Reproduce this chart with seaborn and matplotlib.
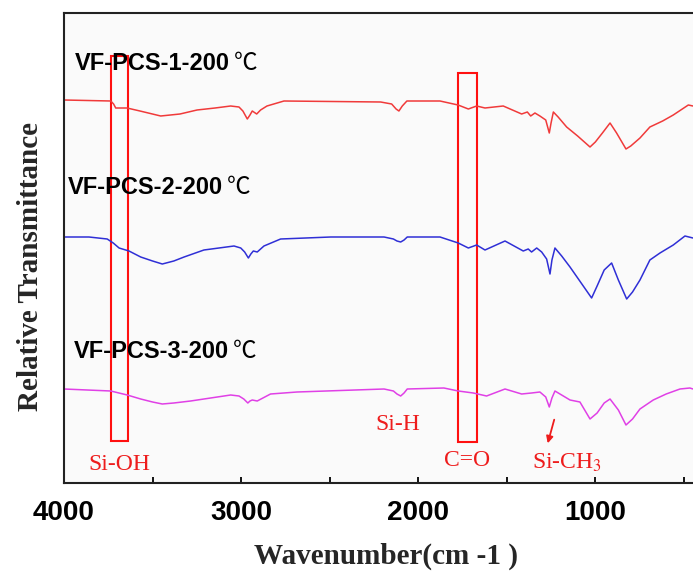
import pandas as pd
import seaborn as sns
import matplotlib.pyplot as plt
from matplotlib.patches import Rectangle

# FTIR spectra, wavenumber (cm-1) vs relative transmittance (offset, arbitrary units)
wn_1 = [4000, 3736, 3720, 3708, 3644, 3571, 3454, 3345, 3249, 3147, 3059, 3012, 2990,
        2965, 2950, 2937, 2912, 2890, 2854, 2758, 2212, 2150, 2125, 2109, 2090, 2064,
        1877, 1775, 1717, 1670, 1623, 1520, 1416, 1384, 1365, 1341, 1313, 1280, 1260,
        1250, 1237, 1210, 1162, 1100, 1030, 1000, 960, 917, 880, 827, 800, 748, 692,
        620, 560, 475, 449]
tr_1 = [38.3, 38.2, 37.9, 37.5, 37.5, 37.2, 36.7, 36.9, 37.3, 37.5, 37.7, 37.6, 37.2,
        36.4, 36.8, 37.2, 36.9, 37.3, 37.7, 38.2, 38.1, 37.9, 37.4, 37.2, 37.7, 38.2,
        38.2, 37.8, 37.4, 37.7, 37.5, 37.7, 36.9, 37.1, 36.7, 37.0, 36.7, 36.3, 35.0,
        36.0, 37.1, 36.6, 35.6, 34.7, 33.6, 34.1, 35.0, 36.0, 35.0, 33.4, 33.7, 34.5, 35.6,
        36.2, 36.8, 37.8, 37.7]

wn_2 = [4000, 3859, 3756, 3722, 3689, 3633, 3567, 3500, 3445, 3380, 3322, 3210, 3040,
        3002, 2980, 2959, 2945, 2931, 2909, 2890, 2871, 2777, 2494, 2193, 2140, 2120,
        2099, 2080, 2062, 1877, 1774, 1717, 1670, 1623, 1510, 1407, 1379, 1360, 1331,
        1303, 1275, 1256, 1245, 1228, 1190, 1143, 1080, 1021, 990, 950, 908, 870, 823,
        790, 748, 692, 635, 560, 494, 449]
tr_2 = [24.6, 24.6, 24.4, 24.0, 23.5, 23.2, 22.6, 22.2, 21.9, 22.2, 22.6, 23.3, 23.7,
        23.5, 23.1, 22.5, 22.9, 23.2, 23.1, 23.4, 23.7, 24.4, 24.6, 24.6, 24.4, 24.2,
        24.1, 24.3, 24.6, 24.6, 24.0, 23.5, 23.8, 23.3, 24.2, 23.2, 23.4, 23.1, 23.5,
        23.1, 22.4, 20.9, 22.3, 23.5, 22.7, 21.6, 20.0, 18.5, 19.7, 21.3, 22.0, 20.3, 18.4,
        19.1, 20.3, 22.3, 23.0, 23.8, 24.7, 24.5]

wn_3 = [4000, 3736, 3643, 3567, 3500, 3445, 3380, 3285, 3059, 3012, 2985, 2962, 2950,
        2937, 2909, 2834, 2684, 2193, 2140, 2120, 2099, 2080, 2062, 1855, 1774, 1689,
        1614, 1510, 1416, 1360, 1313, 1280, 1260, 1245, 1228, 1143, 1087, 1030, 990, 950,
        917, 870, 827, 790, 748, 673, 600, 522, 466, 449]
tr_3 = [9.4, 9.2, 8.8, 8.4, 8.1, 7.9, 8.0, 8.2, 8.8, 8.7, 8.4, 8.0, 8.2,
        8.3, 8.2, 8.9, 9.1, 9.4, 9.2, 8.9, 8.7, 9.0, 9.4, 9.5, 9.2, 9.0,
        8.7, 9.4, 8.9, 9.0, 9.1, 8.6, 7.6, 8.5, 9.2, 8.3, 8.1, 6.4, 7.0, 8.0,
        8.4, 7.3, 5.8, 6.4, 7.4, 8.3, 8.9, 9.4, 9.5, 9.4]

samples = ['VF-PCS-1-200', 'VF-PCS-2-200', 'VF-PCS-3-200']
colors = {samples[0]: '#f03a3a', samples[1]: '#2f2fd6', samples[2]: '#e040e6'}
label_pos = [(3938, 42.0), (3977, 29.5), (3944, 13.1)]

df = pd.concat([
    pd.DataFrame({'wn': wn_1, 'tr': tr_1, 'sample': samples[0]}),
    pd.DataFrame({'wn': wn_2, 'tr': tr_2, 'sample': samples[1]}),
    pd.DataFrame({'wn': wn_3, 'tr': tr_3, 'sample': samples[2]}),
])

sns.set_theme(style='ticks')
plt.rcParams['mathtext.fontset'] = 'stix'

fig = plt.figure(figsize=(6.93, 5.76), dpi=100)
ax = fig.add_axes([64 / 693, 93 / 576, 637.6 / 693, 470 / 576])
ax.set_facecolor('#fafafa')

sns.lineplot(data=df, x='wn', y='tr', hue='sample', palette=colors, estimator=None,
             linewidth=1.1, legend=False, ax=ax)

ax.set_xlim(4000, 400)
ax.set_ylim(0, 47)
ax.set_yticks([])
ax.set_xticks([4000, 3000, 2000, 1000])
ax.set_xticks([3500, 2500, 1500, 500], minor=True)
ax.tick_params(axis='x', which='both', direction='in', length=4, width=1.3, pad=12,
               colors='black')
for lab in ax.get_xticklabels():
    lab.set_fontfamily('Liberation Sans')
    lab.set_fontweight('bold')
    lab.set_fontsize(20)
for side in ['left', 'top', 'bottom', 'right']:
    ax.spines[side].set_color('#222222')
    ax.spines[side].set_linewidth(1.5)

ax.set_xlabel('Wavenumber(cm -1 )', fontfamily='Liberation Serif', fontweight='bold',
              fontsize=21)
ax.set_ylabel('Relative Transmittance', fontfamily='Liberation Serif', fontweight='bold',
              fontsize=21)
ax.xaxis.set_label_coords(0.505, -0.128)
ax.yaxis.set_label_coords(-0.031, 0.46)

for s, (x, y) in zip(samples, label_pos):
    t = ax.text(x, y, s, ha='left', va='center', fontsize=17, fontweight='bold',
                family='Liberation Sans', color='black')
    ax.annotate('℃', xy=(1, 0.5), xycoords=t, xytext=(3, 0), textcoords='offset points',
                ha='left', va='center', fontsize=17, family='Noto Sans CJK SC',
                color='black')

# marker boxes
ax.add_patch(Rectangle((3638, 4.2), 97, 38.5, fill=False, edgecolor='#ff1010', linewidth=1.5))
ax.add_patch(Rectangle((1670, 4.1), 104, 36.9, fill=False, edgecolor='#ff1010', linewidth=1.5))

red_txt = dict(color='#ee1c1c', fontsize=17, family='Liberation Serif', ha='center', va='center')
ax.text(3689, 1.8, 'Si-OH', **red_txt)
ax.text(2117, 5.8, 'Si-H', **red_txt)
ax.text(1727, 2.3, 'C=O', **red_txt)
ax.text(1160, 2.0, 'Si-CH$_3$', **red_txt)
ax.annotate('', xy=(1273, 3.7), xytext=(1228, 6.6),
            arrowprops=dict(arrowstyle='-|>', color='#ee1c1c', lw=1.3, mutation_scale=10))

fig.savefig('out.png', dpi=100)
